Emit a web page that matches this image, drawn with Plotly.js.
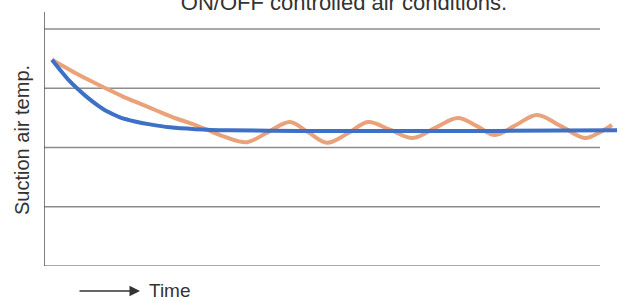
<!DOCTYPE html>
<html>
<head>
<meta charset="utf-8">
<script src="https://cdn.plot.ly/plotly-3.0.1.min.js"></script>
<style>html,body{margin:0;padding:0;background:#fff;}#chart{width:623px;height:301px;}</style>
</head>
<body>
<div id="chart"></div>
<script>
// Time axis (arbitrary units) and suction air temperature (arbitrary units)
const blueTime = [8, 16, 24, 33, 43, 53, 63, 76, 91, 106, 126, 151, 186, 256, 356, 456, 573];
const blueTemp = [3.48, 3.31, 3.15, 3.00, 2.85, 2.72, 2.61, 2.51, 2.44, 2.39, 2.34, 2.31, 2.29, 2.28, 2.28, 2.28, 2.29];

const orangeTime = [8, 29, 46, 59, 79, 96, 113, 129, 146, 163, 181, 203, 224, 246, 264, 283, 304, 324, 346, 369, 391, 414, 433, 451, 472, 493, 517, 541, 556, 568];
const orangeTemp = [3.48, 3.28, 3.13, 3.02, 2.86, 2.74, 2.62, 2.51, 2.41, 2.30, 2.18, 2.09, 2.26, 2.43, 2.26, 2.08, 2.24, 2.43, 2.30, 2.16, 2.33, 2.50, 2.36, 2.21, 2.38, 2.55, 2.36, 2.16, 2.26, 2.38];

const gridLevels = [0, 1, 2, 3, 4];
const gridEnd = 556;
const titleText = "ON/OFF controlled air conditions.";
const yTitle = "Suction air temp.";
const xLabel = "Time";

const FONT = 'Liberation Sans, Arial, sans-serif';

const traces = [
  {x: orangeTime, y: orangeTemp, mode: 'lines', line: {color: '#E9A27A', width: 4, shape: 'spline', smoothing: 1}, hoverinfo: 'skip'},
  {x: blueTime, y: blueTemp, mode: 'lines', line: {color: '#3E70C6', width: 4, shape: 'spline', smoothing: 0.8}, hoverinfo: 'skip'}
];

const shapes = gridLevels.map(v => ({
  type: 'line', xref: 'x', yref: 'y', x0: 0, x1: gridEnd, y0: v, y1: v,
  line: {color: '#8c8c8c', width: 1.5}, layer: 'below'
}));
shapes.push({type: 'line', xref: 'x', yref: 'paper', x0: 0, x1: 0, y0: 0, y1: 1, line: {color: '#555', width: 1.5}});

const layout = {
  width: 623, height: 301,
  margin: {l: 44, r: 3, t: 12, b: 35},
  paper_bgcolor: '#fff', plot_bgcolor: '#fff',
  showlegend: false,
  title: {text: titleText, font: {family: FONT, size: 22, color: '#333'},
          xref: 'paper', x: (344 - 44) / 576, xanchor: 'center', yref: 'container', y: 0.967, yanchor: 'bottom'},
  xaxis: {range: [0, 576], showgrid: false, zeroline: false, showline: false, showticklabels: false, ticks: ''},
  yaxis: {range: [0, 4.287], showgrid: false, zeroline: false, showline: false, showticklabels: false, ticks: ''},
  shapes: shapes,
  annotations: [
    {xref: 'paper', yref: 'paper', x: (22 - 44) / 576, y: (266 - 140) / 254, xanchor: 'center', yanchor: 'middle',
     textangle: -90, text: yTitle, showarrow: false, font: {family: FONT, size: 20, color: '#333'}},
    {xref: 'paper', yref: 'paper', x: (147 - 44) / 576, y: -(290 - 266) / 254, xanchor: 'left', yanchor: 'middle',
     text: xLabel, showarrow: false, font: {family: FONT, size: 19, color: '#333'}},
    {xref: 'paper', yref: 'paper', x: (140 - 44) / 576, y: -(291 - 266) / 254, text: '', showarrow: true,
     ax: -62, ay: 0, arrowhead: 2, arrowsize: 1.4, arrowwidth: 1.5, arrowcolor: '#333'}
  ]
};

Plotly.newPlot('chart', traces, layout, {staticPlot: true, displayModeBar: false});
</script>
</body>
</html>
